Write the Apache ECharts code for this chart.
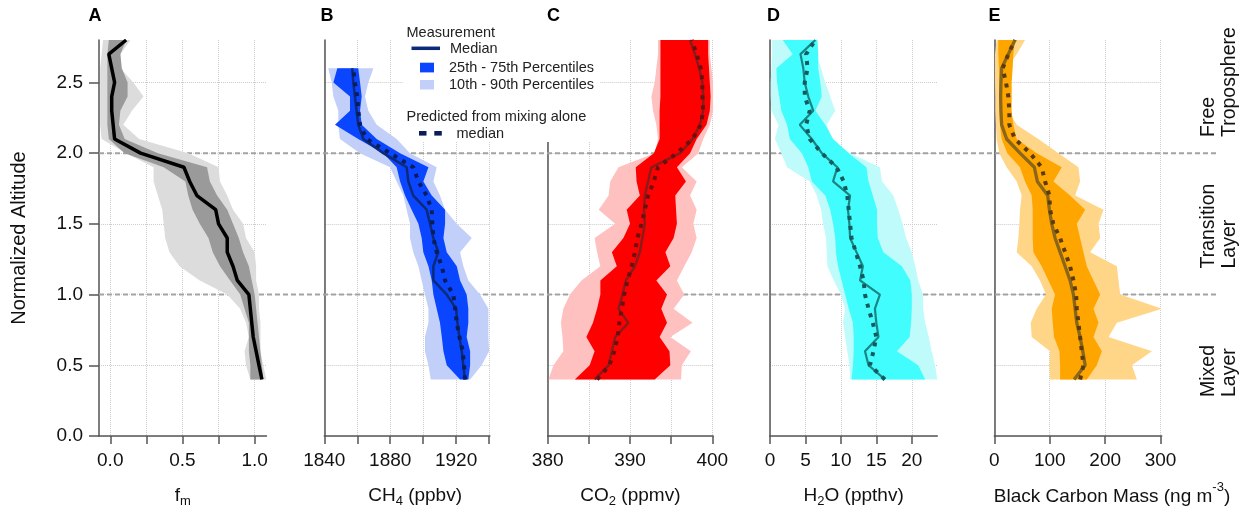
<!DOCTYPE html>
<html>
<head>
<meta charset="utf-8">
<title>Vertical profiles by normalized altitude</title>
<script src="https://cdn.jsdelivr.net/npm/echarts@6/dist/echarts.min.js"></script>
<style>
  html, body { margin: 0; padding: 0; background: #fff; }
  #chart { width: 1256px; height: 514px; }
</style>
</head>
<body>
<div id="chart"></div>
<script>
// altitude levels (normalized), bottom to top
const altLevels = [0.4, 0.5, 0.6, 0.7, 0.8, 0.9, 1.0, 1.1, 1.2, 1.3, 1.4, 1.5, 1.6, 1.7, 1.8, 1.9, 2.0, 2.1, 2.2, 2.3, 2.4, 2.5, 2.6, 2.7, 2.8];
const altLevelsB = [0.4, 0.5, 0.6, 0.7, 0.8, 0.9, 1.0, 1.1, 1.2, 1.3, 1.4, 1.5, 1.6, 1.7, 1.8, 1.9, 2.0, 2.1, 2.2, 2.3, 2.4, 2.5, 2.6];

// A: f_m
const fmMedian = [1.05, 1.03, 1.01, 0.99, 0.98, 0.97, 0.96, 0.88, 0.85, 0.81, 0.81, 0.75, 0.73, 0.60, 0.55, 0.51, 0.21, 0.03, 0.02, 0.01, 0.01, 0.03, 0.01, -0.01, 0.11];
const fmP10 = [0.97, 0.94, 0.93, 0.96, 0.94, 0.90, 0.81, 0.62, 0.48, 0.41, 0.38, 0.37, 0.36, 0.33, 0.30, 0.30, 0.11, -0.06, -0.07, -0.07, -0.07, -0.07, -0.07, -0.06, -0.05];
const fmP25 = [0.97, 0.97, 0.96, 0.96, 0.96, 0.93, 0.90, 0.83, 0.76, 0.71, 0.68, 0.62, 0.57, 0.54, 0.52, 0.37, 0.10, -0.01, -0.02, -0.02, -0.02, -0.02, -0.02, -0.02, -0.01];
const fmP75 = [1.06, 1.05, 1.04, 1.03, 1.02, 1.01, 1.00, 0.98, 0.96, 0.92, 0.89, 0.85, 0.81, 0.74, 0.69, 0.67, 0.33, 0.10, 0.06, 0.07, 0.12, 0.12, 0.08, 0.07, 0.11];
const fmP90 = [1.08, 1.06, 1.04, 1.04, 1.04, 1.03, 1.03, 1.01, 1.01, 1.00, 0.94, 0.92, 0.85, 0.81, 0.76, 0.75, 0.54, 0.20, 0.09, 0.15, 0.23, 0.16, 0.07, 0.07, 0.14];

// B: CH4 (ppbv)
const ch4Median = [1925.4, 1924.4, 1923.4, 1922, 1920.8, 1920, 1914.3, 1906.2, 1906.2, 1909.2, 1906.2, 1904.2, 1902.1, 1894, 1891, 1890, 1875.8, 1863.7, 1860.6, 1859.6, 1858.6, 1857.6, 1857];
const ch4Predicted = [1925.4, 1924.8, 1924, 1922, 1920.4, 1919.4, 1918.3, 1913.3, 1911.3, 1908.2, 1906.2, 1905.6, 1905.2, 1902.1, 1897.1, 1894, 1879.9, 1865.7, 1861.7, 1860.6, 1860, 1858.6, 1857.6];
const ch4P10 = [1904.6, 1903.2, 1901.1, 1901.1, 1903.2, 1903.2, 1901.1, 1899.1, 1897.1, 1894, 1892, 1892, 1890, 1888, 1883.9, 1879.9, 1861.7, 1849.5, 1848.5, 1848.5, 1845.5, 1844.5, 1842.4];
const ch4P25 = [1922.4, 1914.3, 1912.3, 1911.3, 1910.2, 1908.2, 1906.2, 1905.2, 1903.2, 1900.1, 1899.1, 1897.1, 1893, 1889, 1886, 1883.9, 1875.8, 1860.6, 1846.5, 1855.6, 1855.6, 1845.5, 1847.9];
const ch4P75 = [1927.4, 1928.5, 1928.5, 1926.4, 1927.4, 1927.4, 1926.4, 1922.4, 1920.4, 1914.3, 1912.3, 1913.3, 1913.3, 1905.2, 1900.1, 1903.2, 1886, 1871.8, 1862.7, 1861.7, 1862.7, 1861.7, 1860.6];
const ch4P90 = [1928.5, 1935.5, 1940, 1939.6, 1939.6, 1939.6, 1934.5, 1927.4, 1924.4, 1922.4, 1929.5, 1920.4, 1913.3, 1910.2, 1906.2, 1908.2, 1892, 1883.9, 1871.8, 1866.7, 1864.7, 1866.7, 1869.8];

// C: CO2 (ppmv)
const co2Median = [385.7, 387.4, 387.8, 388.2, 389.8, 388.6, 389.1, 389.5, 390.6, 391.2, 391.5, 391.8, 391.7, 391.8, 392.2, 392.6, 396.1, 397.6, 398.5, 398.9, 398.9, 398.8, 398.4, 397.9, 397.3];
const co2Predicted = [386, 387.5, 388.1, 388.5, 388.7, 389, 389.3, 389.7, 390.2, 390.6, 390.9, 391.4, 391.8, 392.2, 392.9, 393.4, 395.7, 397.6, 398.6, 398.9, 398.8, 398.8, 398.6, 398.1, 397.5];
const co2P10 = [380.1, 380.7, 381.9, 381.8, 381.6, 381.9, 382.7, 384.1, 386.4, 386, 385.7, 388.2, 386.2, 387.4, 387.6, 388.6, 393, 393.4, 393.2, 392.8, 392.6, 393, 393.2, 393.4, 393.4];
const co2P25 = [383.3, 385.1, 385.7, 384.7, 385.5, 386, 386.4, 386.4, 388.4, 387.8, 389.2, 390, 389.6, 391.2, 390.8, 390.7, 392.9, 393.6, 393.6, 393.6, 393.7, 393.7, 393.7, 393.7, 393.7];
const co2P75 = [393, 394.9, 394.8, 393.6, 394.5, 393.8, 394.5, 393.2, 394.9, 394.3, 395.3, 395.7, 395.6, 395.5, 396.8, 395.7, 397.3, 398.1, 399.3, 399.7, 399.8, 399.7, 399.6, 399.5, 399.5];
const co2P90 = [396.2, 396.3, 397.4, 394.9, 397.6, 395.3, 396.6, 395.7, 396.6, 397.5, 398.1, 397.7, 398.1, 397.3, 398.1, 396.3, 398.3, 398.9, 399.7, 400.1, 400.1, 400.1, 399.9, 399.7, 399.7];

// D: H2O (ppthv)
const h2oMedian = [16.2, 13.9, 13.4, 15.3, 15, 14.8, 15.5, 12.7, 13.1, 12.2, 11.3, 11.2, 11, 11.3, 8.9, 9.5, 7.3, 5.9, 4.2, 6.1, 5.4, 4.9, 4.7, 4.3, 6.4];
const h2oPredicted = [16.2, 14.1, 14.6, 15, 14.5, 13.9, 13.4, 13.2, 12.7, 12.1, 11.5, 11.3, 11.1, 10.9, 10.4, 9.4, 7.3, 5.6, 5.1, 5.6, 4.9, 4.9, 5.3, 5.1, 6.4];
const h2oP10 = [11.3, 11.2, 10.9, 10.6, 10.3, 10.6, 10, 9, 8.1, 8, 7.9, 7.5, 7.2, 6.6, 5.6, 2.4, 1.6, 0.7, 1.2, 0.2, 0.1, 0.1, 0.2, 0.3, 0.3];
const h2oP25 = [11.5, 11.7, 11.8, 11.8, 11.7, 11.1, 10.6, 10.1, 9.6, 9.3, 9.2, 8.9, 8.5, 7.8, 5.9, 5.4, 4.5, 2.8, 2.4, 1.6, 1.3, 1, 0.9, 3.2, 1.8];
const h2oP75 = [21.9, 20.9, 17.9, 19.7, 19.9, 20, 20, 19.8, 18.6, 16, 15.2, 15.1, 15.1, 14.5, 13.9, 13.6, 11.1, 8.9, 7.8, 6.4, 7.3, 7.1, 6.8, 6.8, 6.7];
const h2oP90 = [23.6, 23.3, 22.8, 22.4, 21.9, 21.6, 21.6, 20.9, 20.5, 20, 19.2, 18.7, 18.1, 17.4, 15.8, 15.5, 11.3, 8.7, 8, 9.2, 8.5, 7.8, 7.2, 6.6, 6.6];

// E: black carbon mass (ng m-3)
const bcMedian = [144, 163.9, 159.6, 154.8, 148.8, 145.8, 142.8, 136.7, 127.7, 118.7, 109.6, 103.6, 99.4, 96.4, 77.7, 72.3, 46.4, 22.3, 13.3, 12, 11.4, 12, 13.3, 25.3, 37.3];
const bcPredicted = [154.8, 160.8, 157.8, 154.8, 151.8, 148.8, 147.6, 142.8, 136.7, 127.7, 118.7, 106.6, 100.6, 99.4, 91.6, 85.5, 64.5, 37.3, 27.1, 27.1, 25.3, 21.1, 15.1, 25.3, 37.3];
const bcP10 = [100.6, 99.4, 100.6, 67.5, 65.7, 76.5, 93.4, 82.5, 67.5, 40.4, 43.4, 45.2, 46.4, 49.4, 40.4, 22.3, 9, 4.2, 3, 1.8, 1.8, 1.2, 1.2, 1.2, 4.2];
const bcP25 = [118.7, 118.7, 117.5, 107.8, 105.4, 103.6, 109.6, 97.6, 85.5, 70.5, 69.3, 69.3, 69.3, 67.5, 55.4, 46.4, 23.5, 13.3, 10.2, 9, 9, 9, 8.4, 7.2, 7.2];
const bcP75 = [166.9, 184.9, 194, 178.9, 188, 178.9, 191, 178.9, 166.9, 160.8, 154.8, 148.8, 163.9, 136.7, 106.6, 121.7, 76.5, 40.4, 34.3, 31.3, 31.3, 31.3, 33.1, 34.3, 37.3];
const bcP90 = [257.2, 248.2, 284.3, 206, 221.1, 302.4, 227.1, 224.1, 221.1, 172.9, 191, 188, 197, 145.8, 154.8, 151.8, 115.7, 79.5, 40.4, 25.3, 22.3, 22.3, 22.3, 40.4, 55.4];

// ticks and labels
const altTicks = [0, 0.5, 1.0, 1.5, 2.0, 2.5];
const layerBoundaries = [1.0, 2.0];
const fmTicks = [0, 0.25, 0.5, 0.75, 1.0];
const fmLabels = [0, 0.5, 1.0];
const ch4Ticks = [1840, 1860, 1880, 1900, 1920, 1940];
const ch4Labels = [1840, 1880, 1920];
const co2Ticks = [380, 385, 390, 395, 400];
const co2Labels = [380, 390, 400];
const h2oTicks = [0, 5, 10, 15, 20];
const bcTicks = [0, 100, 200, 300];

const FONT = '"Liberation Sans", Arial, Helvetica, sans-serif';
const AXIS_COLOR = '#555';
const GRID_COLOR = '#cccccc';
const TEXT_COLOR = '#111';

const panels = [
  { letter: 'A', left: 99, width: 167.5, min: -0.078, max: 1.082, ticks: fmTicks, labels: fmLabels,
    fmt: v => v.toFixed(1), name: '{a|f}{s|m}', nameGap: 48, namePad: 0, lh: 24,
    alt: altLevels, p10: fmP10, p25: fmP25, med: fmMedian, p75: fmP75, p90: fmP90, pred: null,
    light: '#dcdcdc', dark: '#9a9a9a', line: '#000000', predLine: null, lineWidth: 3.5 },
  { letter: 'B', left: 324.3, width: 165.6, min: 1840, max: 1940.5, ticks: ch4Ticks, labels: ch4Labels,
    fmt: v => String(v), name: '{a|CH}{s|4}{a| (ppbv)}', nameGap: 48, namePad: 16, lh: 24,
    alt: altLevelsB, p10: ch4P10, p25: ch4P25, med: ch4Median, p75: ch4P75, p90: ch4P90, pred: ch4Predicted,
    light: '#c2cff9', dark: '#0a46ff', line: '#0b2a7a', predLine: '#0a1d5a', lineWidth: 2.5 },
  { letter: 'C', left: 547.7, width: 165.4, min: 380, max: 400.1, ticks: co2Ticks, labels: co2Labels,
    fmt: v => String(v), name: '{a|CO}{s|2}{a| (ppmv)}', nameGap: 48, namePad: 0, lh: 24,
    alt: altLevels, p10: co2P10, p25: co2P25, med: co2Median, p75: co2P75, p90: co2P90, pred: co2Predicted,
    light: '#ffc0c0', dark: '#ff0000', line: '#8c1a1a', predLine: '#6a1010', lineWidth: 2.5 },
  { letter: 'D', left: 770, width: 167.3, min: 0, max: 23.6, ticks: h2oTicks, labels: h2oTicks,
    fmt: v => String(v), name: '{a|H}{s|2}{a|O (ppthv)}', nameGap: 48, namePad: 0, lh: 24,
    alt: altLevels, p10: h2oP10, p25: h2oP25, med: h2oMedian, p75: h2oP75, p90: h2oP90, pred: h2oPredicted,
    light: '#c0fbfb', dark: '#42fdfd', line: '#1a8585', predLine: '#14595c', lineWidth: 2.2 },
  { letter: 'E', left: 994.3, width: 167.4, min: 0, max: 302, ticks: bcTicks, labels: bcTicks,
    fmt: v => String(v), name: '{b|Black Carbon Mass (ng m}{u|-3}{b|)}', nameGap: 44.5, namePad: 68, lh: 32,
    alt: altLevels, p10: bcP10, p25: bcP25, med: bcMedian, p75: bcP75, p90: bcP90, pred: bcPredicted,
    light: '#ffd588', dark: '#ffa500', line: '#8a661a', predLine: '#5a3c0c', lineWidth: 3.3 }
];

const GRID_TOP = 40;
const GRID_HEIGHT = 396;

const grids = [], xAxes = [], yAxes = [], series = [];

function bandSeries(p, idx, lo, hi, color, z) {
  return {
    type: 'custom',
    xAxisIndex: idx,
    yAxisIndex: idx,
    z: z,
    silent: true,
    data: p.alt.map((a, k) => [lo[k], a, hi[k]]),
    encode: { x: [0, 2], y: 1 },
    renderItem: function (params, api) {
      if (params.dataIndex !== 0) return null;
      const pts = [];
      for (let k = 0; k < p.alt.length; k++) pts.push(api.coord([lo[k], p.alt[k]]));
      for (let k = p.alt.length - 1; k >= 0; k--) pts.push(api.coord([hi[k], p.alt[k]]));
      return { type: 'polygon', shape: { points: pts }, style: { fill: color } };
    }
  };
}

panels.forEach((p, i) => {
  grids.push({ left: p.left, top: GRID_TOP, width: p.width, height: GRID_HEIGHT, outerBoundsMode: 'none' });
  xAxes.push({
    type: 'value', gridIndex: i, min: p.min, max: p.max,
    axisLine: { show: true, onZero: false, lineStyle: { color: AXIS_COLOR, width: 1.5 } },
    axisTick: { show: true, length: 8, customValues: p.ticks, lineStyle: { color: AXIS_COLOR, width: 1.5 } },
    axisLabel: { show: true, customValues: p.labels, formatter: p.fmt, margin: 15,
      fontSize: 19, fontFamily: FONT, color: TEXT_COLOR },
    splitLine: { show: true, lineStyle: { color: GRID_COLOR, type: 'dotted', width: 1 } },
    name: p.name, nameLocation: 'middle', nameGap: p.nameGap,
    nameTextStyle: {
      padding: [0, 0, 0, p.namePad],
      rich: {
        a: { fontSize: 19, lineHeight: p.lh, fontFamily: FONT, color: TEXT_COLOR },
        b: { fontSize: 19, lineHeight: p.lh, fontFamily: FONT, color: TEXT_COLOR },
        s: { fontSize: 13, lineHeight: 13, verticalAlign: 'bottom', fontFamily: FONT, color: TEXT_COLOR },
        u: { fontSize: 13, lineHeight: 13, verticalAlign: 'top', fontFamily: FONT, color: TEXT_COLOR }
      }
    }
  });
  yAxes.push({
    type: 'value', gridIndex: i, min: 0, max: 2.8,
    axisLine: { show: true, onZero: false, lineStyle: { color: AXIS_COLOR, width: 1.5 } },
    axisTick: { show: i === 0, length: 10, customValues: altTicks, lineStyle: { color: AXIS_COLOR, width: 1.5 } },
    axisLabel: { show: i === 0, customValues: altTicks, formatter: v => v.toFixed(1), margin: 16,
      fontSize: 19, fontFamily: FONT, color: TEXT_COLOR },
    splitLine: { show: true, lineStyle: { color: GRID_COLOR, type: 'dotted', width: 1 } },
    name: i === 0 ? 'Normalized Altitude' : '',
    nameLocation: 'middle', nameRotate: 90, nameGap: 70,
    nameTextStyle: { fontSize: 20, fontFamily: FONT, color: TEXT_COLOR }
  });

  series.push(bandSeries(p, i, p.p10, p.p90, p.light, 2));
  series.push(bandSeries(p, i, p.p25, p.p75, p.dark, 3));
  series.push({
    type: 'line', xAxisIndex: i, yAxisIndex: i, z: 4, silent: true,
    showSymbol: false, symbol: 'none',
    data: p.alt.map((a, k) => [p.med[k], a]),
    lineStyle: { color: p.line, width: p.lineWidth }
  });
  if (p.pred) {
    series.push({
      type: 'line', xAxisIndex: i, yAxisIndex: i, z: 5, silent: true,
      showSymbol: false, symbol: 'none',
      data: p.alt.map((a, k) => [p.pred[k], a]),
      lineStyle: { color: p.predLine, width: 4, type: [4, 6], cap: 'butt' }
    });
  }
});

// overlay grid for the layer boundaries spanning all panels
const OV = panels.length;
grids.push({ left: 99, top: GRID_TOP, width: 1119, height: GRID_HEIGHT, outerBoundsMode: 'none' });
xAxes.push({ type: 'value', gridIndex: OV, min: 0, max: 1, show: false });
yAxes.push({ type: 'value', gridIndex: OV, min: 0, max: 2.8, show: false });
layerBoundaries.forEach(v => {
  series.push({
    type: 'line', xAxisIndex: OV, yAxisIndex: OV, z: 1, silent: true,
    showSymbol: false, symbol: 'none',
    data: [[0, v], [1, v]],
    lineStyle: { color: '#a3a3a3', width: 2, type: [5, 3] }
  });
});

const legendFont = '14.5px ' + FONT;
const layerFont = '19.5px ' + FONT;
const graphics = [
  // legend box
  { type: 'rect', z: 100, shape: { x: 403, y: 24, width: 197, height: 118 }, style: { fill: '#fff' } },
  { type: 'text', z: 101, x: 406.5, y: 33, style: { text: 'Measurement', font: legendFont, fill: '#222', verticalAlign: 'middle' } },
  { type: 'line', z: 101, shape: { x1: 411.5, y1: 48.3, x2: 440, y2: 48.3 }, style: { stroke: panels[1].line, lineWidth: 3.5 } },
  { type: 'text', z: 101, x: 450, y: 49, style: { text: 'Median', font: legendFont, fill: '#222', verticalAlign: 'middle' } },
  { type: 'rect', z: 101, shape: { x: 420, y: 62.7, width: 14, height: 9.7 }, style: { fill: panels[1].dark } },
  { type: 'text', z: 101, x: 449, y: 67.5, style: { text: '25th - 75th Percentiles', font: legendFont, fill: '#222', verticalAlign: 'middle' } },
  { type: 'rect', z: 101, shape: { x: 420, y: 80, width: 14, height: 9.5 }, style: { fill: panels[1].light } },
  { type: 'text', z: 101, x: 449, y: 84.5, style: { text: '10th - 90th Percentiles', font: legendFont, fill: '#222', verticalAlign: 'middle' } },
  { type: 'text', z: 101, x: 406.5, y: 117, style: { text: 'Predicted from mixing alone', font: legendFont, fill: '#222', verticalAlign: 'middle' } },
  { type: 'rect', z: 101, shape: { x: 419, y: 131, width: 7.5, height: 4.6 }, style: { fill: panels[1].predLine } },
  { type: 'rect', z: 101, shape: { x: 434.3, y: 131, width: 7.5, height: 4.6 }, style: { fill: panels[1].predLine } },
  { type: 'text', z: 101, x: 456.5, y: 133.5, style: { text: 'median', font: legendFont, fill: '#222', verticalAlign: 'middle' } }
];

// panel letters
[[95, 'A'], [327, 'B'], [553.5, 'C'], [773.5, 'D'], [994.5, 'E']].forEach(([x, t]) => {
  graphics.push({ type: 'text', z: 101, x: x, y: 16.5,
    style: { text: t, font: 'bold 18px ' + FONT, fill: '#000', align: 'center', verticalAlign: 'middle' } });
});

// layer names on the right, rotated
[['Free', 1209, 137], ['Troposphere', 1230, 137], ['Transition', 1209, 268.5], ['Layer', 1230, 268.5],
 ['Mixed', 1209, 397], ['Layer', 1230, 397]].forEach(([t, x, y]) => {
  graphics.push({ type: 'text', z: 101, x: x, y: y, rotation: Math.PI / 2,
    style: { text: t, font: layerFont, fill: TEXT_COLOR, align: 'left', verticalAlign: 'middle' } });
});

const chart = echarts.init(document.getElementById('chart'), null, { renderer: 'canvas' });
chart.setOption({
  backgroundColor: '#fff',
  animation: false,
  grid: grids,
  xAxis: xAxes,
  yAxis: yAxes,
  series: series,
  graphic: { elements: graphics }
});
</script>
</body>
</html>
